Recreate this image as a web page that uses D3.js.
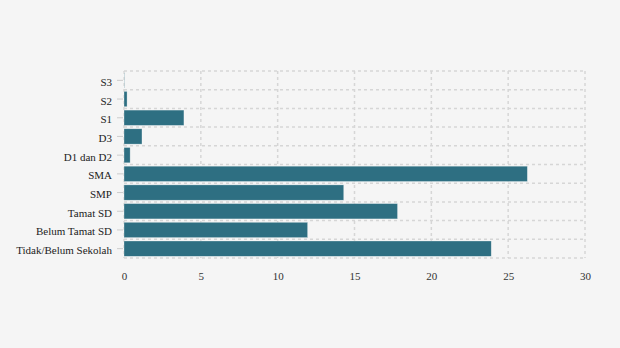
<!DOCTYPE html>
<html>
<head>
<meta charset="utf-8">
<script src="https://cdn.jsdelivr.net/npm/d3@7"></script>
<style>
  html, body { margin: 0; padding: 0; background: #f5f5f5; }
  svg { display: block; }
</style>
</head>
<body>
<svg id="chart" width="620" height="348"></svg>
<script>
// Education level categories (top to bottom) and their shares
const categories = ["S3", "S2", "S1", "D3", "D1 dan D2", "SMA", "SMP", "Tamat SD", "Belum Tamat SD", "Tidak/Belum Sekolah"];
const values = [0.02, 0.2, 3.9, 1.17, 0.4, 26.25, 14.3, 17.8, 11.95, 23.9];
const xTicks = [0, 5, 10, 15, 20, 25, 30];

const svg = d3.select("#chart");
const margin = { top: 71, right: 35, bottom: 90, left: 124 };
const width = 620 - margin.left - margin.right;
const height = 348 - margin.top - margin.bottom;

const g = svg.append("g").attr("transform", `translate(${margin.left},${margin.top})`);

const x = d3.scaleLinear().domain([0, 30]).range([0, width]);
const y = d3.scaleBand().domain(categories).range([0, height]).paddingInner(0.18).paddingOuter(0.09);

const gridColor = "#d6d6d6";
const serif = "'Liberation Serif', 'Times New Roman', serif";

// Vertical grid lines
g.append("g").selectAll("line").data(xTicks).join("line")
  .attr("x1", d => x(d)).attr("x2", d => x(d))
  .attr("y1", 0).attr("y2", height)
  .attr("stroke", gridColor).attr("stroke-width", 1.5).attr("stroke-dasharray", "3,3");

// Horizontal grid lines at band boundaries
const bounds = d3.range(categories.length + 1).map(i => i * height / categories.length);
g.append("g").selectAll("line").data(bounds).join("line")
  .attr("x1", 0).attr("x2", width)
  .attr("y1", d => d).attr("y2", d => d)
  .attr("stroke", gridColor).attr("stroke-width", 1.5).attr("stroke-dasharray", "3,3");

// Bars
g.append("g").selectAll("rect").data(categories).join("rect")
  .attr("x", x(0))
  .attr("y", d => y(d))
  .attr("width", (d, i) => x(values[i]) - x(0))
  .attr("height", y.bandwidth())
  .attr("fill", "#2e6f82")
  .attr("stroke", "#ffffff").attr("stroke-opacity", 0.5).attr("stroke-width", 0.6);

// Y axis
const yAxis = g.append("g")
  .call(d3.axisLeft(y).tickSize(6).tickPadding(6));
yAxis.select(".domain").remove();
yAxis.selectAll(".tick line").attr("stroke", "#cccccc").attr("transform", "translate(-1,0)");
yAxis.selectAll(".tick text")
  .attr("fill", "#222")
  .attr("dy", "0.5em")
  .style("font-family", serif)
  .style("font-size", "11px");

// X axis
const xAxis = g.append("g")
  .attr("transform", `translate(0,${height})`)
  .call(d3.axisBottom(x).tickValues(xTicks).tickSize(0).tickPadding(14));
xAxis.select(".domain").remove();
xAxis.selectAll(".tick text")
  .attr("fill", "#333")
  .style("font-family", serif)
  .style("font-size", "11px");
</script>
</body>
</html>
